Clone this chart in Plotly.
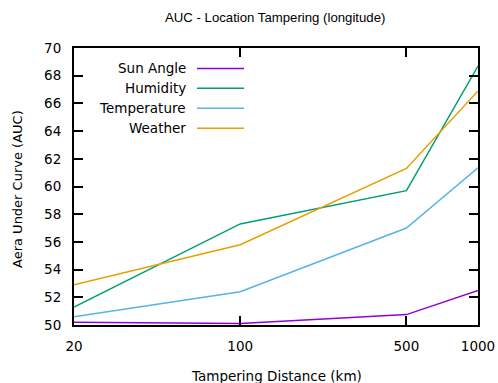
import plotly.graph_objects as go
import math

distances = [20, 100, 500, 1000]
series_names = ["Sun Angle", "Humidity", "Temperature", "Weather"]
sun_angle = [50.2, 50.1, 50.75, 52.5]
humidity = [51.3, 57.3, 59.7, 68.7]
temperature = [50.6, 52.4, 57.0, 61.35]
weather = [52.9, 55.8, 61.3, 66.9]
colors = ["#9400d3", "#009e73", "#56b4e9", "#e69f00"]
x_ticks = [20, 100, 500, 1000]
y_ticks = [50, 52, 54, 56, 58, 60, 62, 64, 66, 68, 70]

FONT = "DejaVu Sans"
FS = 13.5
fig = go.Figure()
for name, vals, c in zip(series_names, [sun_angle, humidity, temperature, weather], colors):
    fig.add_trace(go.Scatter(x=distances, y=vals, mode="lines", name=name,
                             line=dict(color=c, width=1.5), showlegend=False))

W, H = 498, 383
ml, mr, mt, mb = 74, 20, 47.5, 57.5
pw, ph = W - ml - mr, H - mt - mb
def px(x): return (x - ml) / pw
def py(y): return 1 - (y - mt) / ph

# gnuplot-style legend: text right-aligned, sample line on the right
for i, (name, c) in enumerate(zip(series_names, colors)):
    yy = 68 + 20 * i
    fig.add_annotation(xref="paper", yref="paper", x=px(188), y=py(yy), text=name,
                       showarrow=False, xanchor="right", yanchor="middle",
                       font=dict(family=FONT, size=FS, color="#000"))
    fig.add_shape(type="line", xref="paper", yref="paper", x0=px(197), x1=px(244),
                  y0=py(yy), y1=py(yy), line=dict(color=c, width=1.5))

# titles
fig.add_annotation(xref="paper", yref="paper", x=px(275), y=py(17),
                   text="AUC - Location Tampering (longitude)", showarrow=False,
                   xanchor="center", yanchor="middle",
                   font=dict(family="Liberation Sans", size=13.2, color="#000"))
fig.add_annotation(xref="paper", yref="paper", x=px(276), y=py(377),
                   text="Tampering Distance (km)", showarrow=False,
                   xanchor="center", yanchor="middle",
                   font=dict(family=FONT, size=FS, color="#000"))
fig.add_annotation(xref="paper", yref="paper", x=px(18), y=py(189),
                   text="Aera Under Curve (AUC)", showarrow=False, textangle=-90,
                   xanchor="center", yanchor="middle",
                   font=dict(family=FONT, size=13, color="#000"))

axis_common = dict(showgrid=False, zeroline=False, showline=True, linecolor="#000",
                   linewidth=2, mirror="ticks", ticks="inside", ticklen=9, tickwidth=1.5,
                   tickcolor="#000", automargin=False,
                   tickfont=dict(family=FONT, size=FS, color="#000"))
fig.update_xaxes(type="log", range=[math.log10(20), math.log10(1000)],
                 tickvals=x_ticks, ticktext=[str(v) for v in x_ticks],
                 ticklabelstandoff=8, **axis_common)
fig.update_yaxes(range=[50, 70], tickvals=y_ticks, ticklabelstandoff=8, **axis_common)
fig.update_layout(width=W, height=H, margin=dict(l=ml, r=mr, t=mt, b=mb),
                  plot_bgcolor="white", paper_bgcolor="white")
fig.write_html("out.html", config={"displayModeBar": False},
               post_script="document.body.style.margin='0';document.body.style.overflow='hidden';")
